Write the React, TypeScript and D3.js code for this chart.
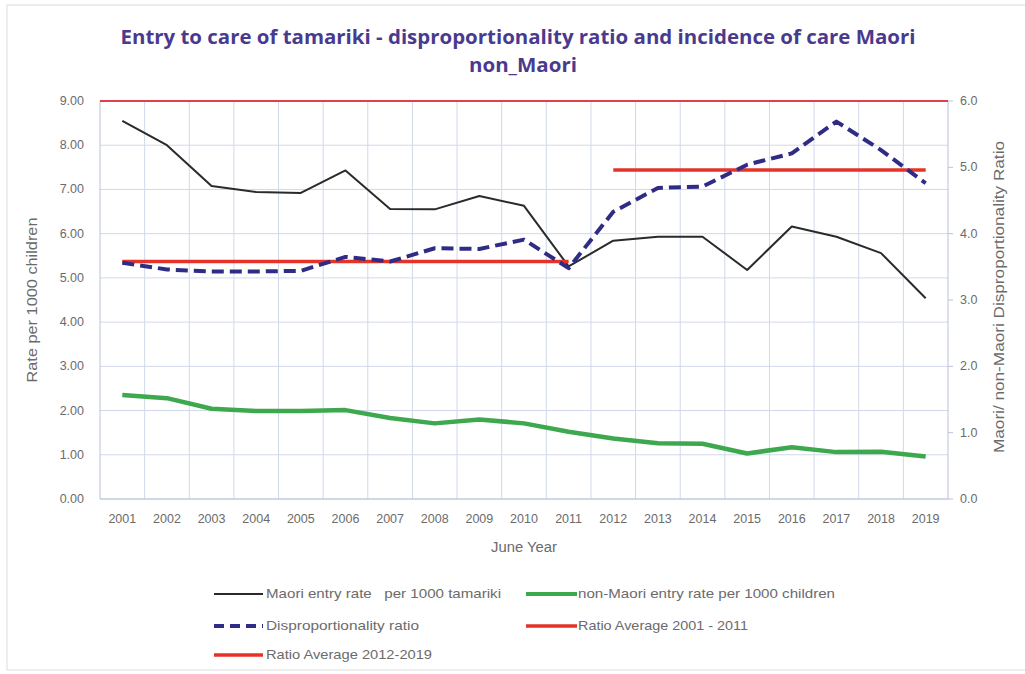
import React from "react";
import * as d3 from "d3";

const years = ["2001","2002","2003","2004","2005","2006","2007","2008","2009","2010","2011","2012","2013","2014","2015","2016","2017","2018","2019"];
const maoriRate = [8.55,8.0,7.08,6.94,6.92,7.43,6.56,6.55,6.85,6.63,5.26,5.84,5.93,5.93,5.18,6.16,5.93,5.56,4.54];
const nonMaoriRate = [2.35,2.28,2.04,1.99,1.99,2.01,1.83,1.71,1.80,1.71,1.52,1.37,1.26,1.25,1.03,1.17,1.06,1.07,0.96];
const ratio = [3.56,3.46,3.43,3.43,3.44,3.65,3.58,3.78,3.77,3.91,3.48,4.33,4.69,4.71,5.04,5.21,5.69,5.26,4.76];
const avg2001_2011 = 3.58;
const avg2012_2019 = 4.96;
const leftTicks = [0,1,2,3,4,5,6,7,8,9];
const rightTicks = [0,1,2,3,4,5,6];

const W = 1025, H = 674;
const plot = { left: 100, right: 948, top: 101, bottom: 499 };
const LABEL_FONT = "'Liberation Sans', Arial, sans-serif";

export default function App() {
  const x = d3.scaleBand<string>().domain(years).range([plot.left, plot.right]);
  const cx = (y: string) => (x(y) as number) + x.bandwidth() / 2;
  const yL = d3.scaleLinear().domain([0, 9]).range([plot.bottom, plot.top]);
  const yR = d3.scaleLinear().domain([0, 6]).range([plot.bottom, plot.top]);

  const lineL = d3.line<number>().x((_, i) => cx(years[i])).y((d) => yL(d));
  const lineR = d3.line<number>().x((_, i) => cx(years[i])).y((d) => yR(d));

  const i2011 = years.indexOf("2011");
  const i2012 = years.indexOf("2012");

  const grid = "#d0d8ea";
  const tickColor = "#6b6b6b";
  const titleColor = "#4a3a8e";

  return (
    <svg width={W} height={H} style={{ position: "absolute", left: 0, top: 0, background: "#fff" }}>
      <rect x={7} y={5} width={1030} height={665} fill="none" stroke="#dcdcdc" strokeWidth={1} />
      <text x={518} y={44} textAnchor="middle" fontFamily="'Open Sans', sans-serif" fontWeight="bold" fontSize={19} fill={titleColor} textLength={795} lengthAdjust="spacingAndGlyphs">
        Entry to care of tamariki - disproportionality ratio and incidence of care Maori
      </text>
      <text x={523} y={72} textAnchor="middle" fontFamily="'Open Sans', sans-serif" fontWeight="bold" fontSize={19} fill={titleColor} textLength={108} lengthAdjust="spacingAndGlyphs">
        non_Maori
      </text>

      {leftTicks.map((t) => (
        <line key={"h" + t} x1={plot.left} x2={plot.right} y1={yL(t)} y2={yL(t)} stroke={grid} strokeWidth={1} />
      ))}
      {years.slice(1).map((yr) => (
        <line key={"v" + yr} x1={x(yr) as number} x2={x(yr) as number} y1={plot.top} y2={plot.bottom} stroke={grid} strokeWidth={1} />
      ))}
      <line x1={plot.left} x2={plot.left} y1={plot.top} y2={plot.bottom} stroke="#b8c2d8" />
      <line x1={plot.right} x2={plot.right} y1={plot.top} y2={plot.bottom} stroke="#b8c2d8" />
      <line x1={plot.left} x2={plot.right} y1={plot.bottom} y2={plot.bottom} stroke="#b8c2d8" />
      {rightTicks.map((t) => (
        <line key={"rt" + t} x1={plot.right} x2={plot.right + 5} y1={yR(t)} y2={yR(t)} stroke="#b8c2d8" />
      ))}
      <line x1={plot.left} x2={plot.right} y1={plot.top} y2={plot.top} stroke="#e0404a" strokeWidth={2} />

      {leftTicks.map((t) => (
        <text key={"lt" + t} x={84} y={yL(t) + 4} textAnchor="end" fontFamily={LABEL_FONT} fontSize={12.5} fill={tickColor}>
          {t.toFixed(2)}
        </text>
      ))}
      {rightTicks.map((t) => (
        <text key={"rl" + t} x={960} y={yR(t) + 4} textAnchor="start" fontFamily={LABEL_FONT} fontSize={12.5} fill={tickColor}>
          {t.toFixed(1)}
        </text>
      ))}
      {years.map((yr) => (
        <text key={"xl" + yr} x={cx(yr)} y={523} textAnchor="middle" fontFamily={LABEL_FONT} fontSize={12.5} fill={tickColor}>
          {yr}
        </text>
      ))}
      <text x={524} y={552} textAnchor="middle" fontFamily={LABEL_FONT} fontSize={14} fill={tickColor} textLength={66} lengthAdjust="spacingAndGlyphs">June Year</text>
      <text transform={`translate(37,${300}) rotate(-90)`} textAnchor="middle" fontFamily={LABEL_FONT} fontSize={14} fill={tickColor} textLength={165} lengthAdjust="spacingAndGlyphs">
        Rate per 1000 children
      </text>
      <text transform={`translate(1004,${297}) rotate(-90)`} textAnchor="middle" fontFamily={LABEL_FONT} fontSize={14} fill={tickColor} textLength={312} lengthAdjust="spacingAndGlyphs">
        Maori/ non-Maori Disproportionality Ratio
      </text>

      <path d={lineL(nonMaoriRate) || ""} fill="none" stroke="#3da84e" strokeWidth={4.5} strokeLinejoin="round" />
      <path d={lineL(maoriRate) || ""} fill="none" stroke="#2a2a2a" strokeWidth={2} strokeLinejoin="round" />
      <line x1={cx(years[0])} x2={cx(years[i2011])} y1={yR(avg2001_2011)} y2={yR(avg2001_2011)} stroke="#e5332a" strokeWidth={3.5} />
      <line x1={cx(years[i2012])} x2={cx(years[years.length - 1])} y1={yR(avg2012_2019)} y2={yR(avg2012_2019)} stroke="#e5332a" strokeWidth={3.5} />
      <path d={lineR(ratio) || ""} fill="none" stroke="#2f2c86" strokeWidth={4} strokeDasharray="12,6" strokeLinejoin="round" />

      <g fontFamily={LABEL_FONT} fontSize={13} fill={tickColor}>
        <line x1={214} x2={263} y1={594} y2={594} stroke="#2a2a2a" strokeWidth={2} />
        <text x={266} y={598} textLength={235} lengthAdjust="spacingAndGlyphs">{"Maori entry rate \u00A0 per 1000 tamariki"}</text>
        <line x1={526} x2={577} y1={594} y2={594} stroke="#3da84e" strokeWidth={4} />
        <text x={578} y={598} textLength={257} lengthAdjust="spacingAndGlyphs">non-Maori entry rate per 1000 children</text>
        <line x1={214} x2={263} y1={626} y2={626} stroke="#2f2c86" strokeWidth={4} strokeDasharray="10,6" />
        <text x={266} y={630} textLength={153} lengthAdjust="spacingAndGlyphs">Disproportionality ratio</text>
        <line x1={526} x2={577} y1={626} y2={626} stroke="#e5332a" strokeWidth={3.5} />
        <text x={578} y={630} textLength={170} lengthAdjust="spacingAndGlyphs">Ratio Average 2001 - 2011</text>
        <line x1={214} x2={263} y1={655} y2={655} stroke="#e5332a" strokeWidth={3.5} />
        <text x={266} y={659} textLength={166} lengthAdjust="spacingAndGlyphs">Ratio Average 2012-2019</text>
      </g>
    </svg>
  );
}
